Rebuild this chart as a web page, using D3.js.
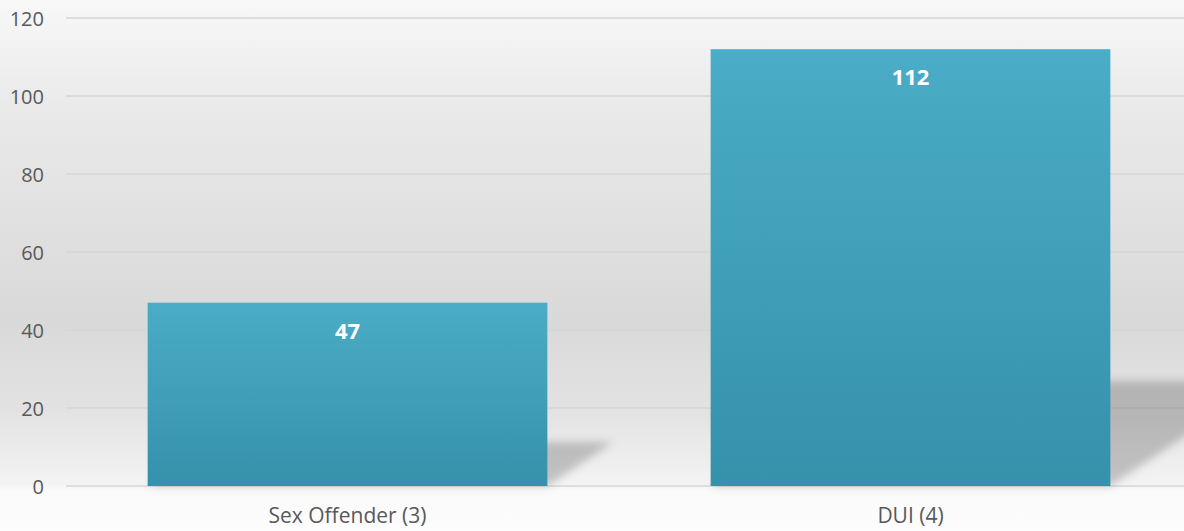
<!DOCTYPE html>
<meta charset="utf-8">
<script src="https://cdnjs.cloudflare.com/ajax/libs/d3/7.8.5/d3.min.js"></script>
<style>
body { margin: 0; }
svg { display: block; }
.tick text { font-family: "Open Sans", sans-serif; fill: #595959; }
</style>
<body>
<script>
// data
var categories = ["Sex Offender (3)", "DUI (4)"];
var counts = [47, 112];
var yTicks = [0, 20, 40, 60, 80, 100, 120];

var w = 1184;
var h = 531;

var svg = d3.select("body").append("svg")
    .attr("width", w)
    .attr("height", h);

var defs = svg.append("defs");

// background gradient
var bg = defs.append("linearGradient").attr("id", "bg")
    .attr("x1", 0).attr("y1", 0).attr("x2", 0).attr("y2", 1);
bg.append("stop").attr("offset", 0).attr("stop-color", "#f8f8f8");
bg.append("stop").attr("offset", 0.2).attr("stop-color", "#eaeaea");
bg.append("stop").attr("offset", 0.6).attr("stop-color", "#d9d9d9");
bg.append("stop").attr("offset", 0.77).attr("stop-color", "#e2e2e2");
bg.append("stop").attr("offset", 0.91).attr("stop-color", "#f3f3f3");
bg.append("stop").attr("offset", 0.925).attr("stop-color", "#fafafa");
bg.append("stop").attr("offset", 1).attr("stop-color", "#fdfdfd");

// bar gradient
var bar = defs.append("linearGradient").attr("id", "bar")
    .attr("x1", 0).attr("y1", 0).attr("x2", 0).attr("y2", 1);
bar.append("stop").attr("offset", 0).attr("stop-color", "#4aacc6");
bar.append("stop").attr("offset", 1).attr("stop-color", "#3691ab");

var blur = defs.append("filter").attr("id", "blur")
    .attr("x", -0.2).attr("y", -0.5).attr("width", 1.4).attr("height", 2);
blur.append("feGaussianBlur").attr("stdDeviation", 4);

svg.append("rect").attr("width", w).attr("height", h).attr("fill", "url(#bg)");

//scales
var xScale = d3.scaleBand()
    .domain(categories)
    .range([66, 1192])
    .paddingInner(0.29)
    .paddingOuter(0.145);

var yScale = d3.scaleLinear()
    .domain([0, 120])
    .range([486, 18]);

// gridlines
svg.append("g").selectAll("line").data(yTicks).enter().append("line")
    .attr("x1", 66).attr("x2", w)
    .attr("y1", function(d){ return yScale(d); })
    .attr("y2", function(d){ return yScale(d); })
    .attr("stroke", "#d6d6d6")
    .attr("stroke-width", 1.5);

// y axis labels
var yAxis = d3.axisLeft(yScale).tickValues(yTicks).tickSize(0).tickPadding(0);
svg.append("g")
    .attr("transform", "translate(44,0)")
    .call(yAxis)
    .call(function(g){ g.select(".domain").remove(); })
    .selectAll("text")
    .style("font-size", "20px")
    .attr("dy", "0.35em");

// shadows
svg.append("g").selectAll("path").data(counts).enter().append("path")
    .attr("filter", "url(#blur)")
    .attr("fill", "#000")
    .attr("fill-opacity", 0.2)
    .attr("d", function(d, i){
        var x0 = xScale(categories[i]);
        var x1 = x0 + xScale.bandwidth();
        var y0 = yScale(0);
        var sh = (yScale(0) - yScale(d)) * 0.24;
        var dx = sh * 1.5;
        return "M" + x0 + "," + y0 + "L" + x1 + "," + y0 +
            "L" + (x1 + dx) + "," + (y0 - sh) + "L" + (x0 + dx) + "," + (y0 - sh) + "Z";
    });

// bars
svg.append("g").selectAll("rect").data(counts).enter().append("rect")
    .attr("x", function(d, i){ return xScale(categories[i]); })
    .attr("y", function(d){ return yScale(d); })
    .attr("width", xScale.bandwidth())
    .attr("height", function(d){ return yScale(0) - yScale(d); })
    .attr("fill", "url(#bar)");

// value labels
svg.append("g").selectAll("text").data(counts).enter().append("text")
    .attr("x", function(d, i){ return xScale(categories[i]) + xScale.bandwidth() / 2; })
    .attr("y", function(d){ return yScale(d) + 36; })
    .attr("text-anchor", "middle")
    .style("font-family", "'Open Sans', sans-serif")
    .style("font-weight", "bold")
    .style("font-size", "22px")
    .attr("fill", "#fff")
    .text(function(d){ return d; });

// x axis labels
var xAxis = d3.axisBottom(xScale).tickSize(0).tickPadding(0);
svg.append("g")
    .attr("transform", "translate(0,508)")
    .call(xAxis)
    .call(function(g){ g.select(".domain").remove(); })
    .selectAll("text")
    .style("font-size", "21px")
    .attr("dy", "0.71em");
</script>
</body>
</html>
